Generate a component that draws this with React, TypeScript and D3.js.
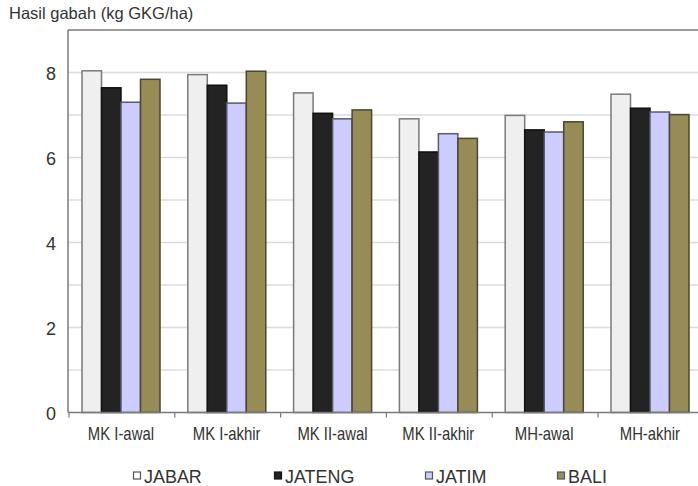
import React from "react";
import * as d3 from "d3";

const categories = ["MK I-awal", "MK I-akhir", "MK II-awal", "MK II-akhir", "MH-awal", "MH-akhir"];
const seriesNames = ["JABAR", "JATENG", "JATIM", "BALI"];
const jabar = [8.04, 7.95, 7.52, 6.91, 6.99, 7.49];
const jateng = [7.64, 7.7, 7.04, 6.13, 6.65, 7.16];
const jatim = [7.3, 7.28, 6.91, 6.56, 6.6, 7.07];
const bali = [7.84, 8.03, 7.12, 6.45, 6.84, 7.01];
const yTickLabels = [0, 2, 4, 6, 8];
const gridValues = [1, 2, 3, 4, 5, 6, 7, 8];

const seriesValues = [jabar, jateng, jatim, bali];
const fills = ["#efefef", "#232323", "#ccccff", "#978c55"];
const strokes = ["#7a7a7a", "#111111", "#5a5a6a", "#4a4632"];
const legendX = [133, 274, 425, 557];

const W = 698;
const H = 486;
const left = 68;
const top = 30;
const bottom = 412.5;
const step = 105.8;

export default function App() {
  const y = d3.scaleLinear().domain([0, 9]).range([bottom, top]);
  const x = d3
    .scaleBand<string>()
    .domain(categories)
    .range([left, left + step * categories.length])
    .paddingInner(0)
    .paddingOuter(0);
  const xs = d3.scaleBand<string>().domain(seriesNames).range([14, 92]).padding(0);
  const fontMain = "Arial, 'Liberation Sans', Helvetica, sans-serif";

  return (
    <svg
      width={W}
      height={H}
      style={{ position: "fixed", left: 0, top: 0, background: "#fff" }}
      fontFamily={fontMain}
    >
      <rect x={0} y={0} width={W} height={H} fill="#fff" />
      <text x={9} y={19} fontSize={16.5} fill="#333">
        Hasil gabah (kg GKG/ha)
      </text>
      {gridValues.map((v) => (
        <line key={v} x1={left} x2={W} y1={y(v)} y2={y(v)} stroke="#dcdcdc" strokeWidth={1.5} />
      ))}
      <line x1={left} x2={W} y1={top} y2={top} stroke="#7a7a7a" strokeWidth={1.5} />
      {categories.map((c, ci) =>
        seriesNames.map((s, si) => {
          const v = seriesValues[si][ci];
          const x0 = (x(c) as number) + (xs(s) as number);
          return (
            <rect
              key={c + s}
              x={x0}
              y={y(v)}
              width={xs.bandwidth()}
              height={y(0) - y(v)}
              fill={fills[si]}
              stroke={strokes[si]}
              strokeWidth={1.5}
            />
          );
        })
      )}
      <line x1={left} x2={left} y1={top} y2={bottom} stroke="#7a7a7a" strokeWidth={1.5} />
      <line x1={left} x2={W} y1={bottom} y2={bottom} stroke="#7a7a7a" strokeWidth={1.5} />
      {categories.map((c) => (
        <line
          key={"t" + c}
          x1={(x(c) as number) + 1}
          x2={(x(c) as number) + 1}
          y1={bottom}
          y2={bottom + 5}
          stroke="#7a7a7a"
          strokeWidth={1.2}
        />
      ))}
      {yTickLabels.map((v) => (
        <text
          key={"y" + v}
          x={56}
          y={y(v)}
          dy="0.4em"
          textAnchor="end"
          fontSize={18}
          fill="#333"
        >
          {v}
        </text>
      ))}
      {categories.map((c) => {
        const cx = (x(c) as number) + x.bandwidth() / 2;
        return (
          <text
            key={"c" + c}
            transform={`translate(${cx},439.5) scale(0.85,1)`}
            textAnchor="middle"
            fontSize={17.5}
            fill="#333"
          >
            {c}
          </text>
        );
      })}
      {seriesNames.map((s, i) => (
        <g key={"l" + s} transform={`translate(${legendX[i]},0)`}>
          <rect
            x={0.5}
            y={472}
            width={7}
            height={7}
            fill={i === 0 ? "#fff" : fills[i]}
            stroke={i === 1 ? "#111" : "#555"}
            strokeWidth={1.2}
          />
          <text
            transform={`translate(11,483) scale(0.97,1)`}
            fontSize={18.5}
            fill="#333"
          >
            {s}
          </text>
        </g>
      ))}
    </svg>
  );
}
